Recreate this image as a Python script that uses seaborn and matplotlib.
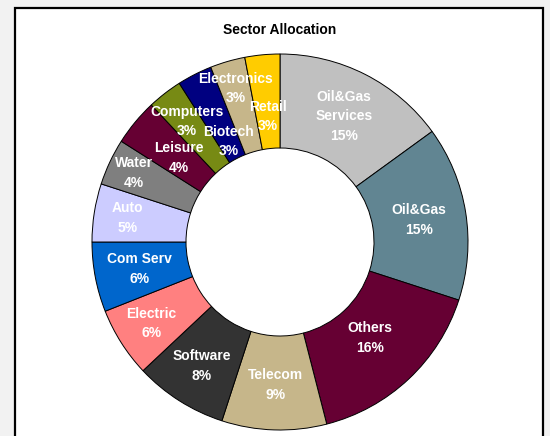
import numpy as np
import pandas as pd
import matplotlib
matplotlib.use('Agg')
import matplotlib.pyplot as plt
import seaborn as sns
from matplotlib.patches import Rectangle

# 数据：扇区配置（顺时针，从12点开始）
sectors = ['Oil&Gas\nServices', 'Oil&Gas', 'Others', 'Telecom', 'Software', 'Electric',
           'Com Serv', 'Auto', 'Water', 'Leisure', 'Computers', 'Biotech', 'Electronics', 'Retail']
shares = [15, 15, 16, 9, 8, 6, 6, 5, 4, 4, 3, 3, 3, 3]
colors = ['#C0C0C0', '#618592', '#660033', '#C6B68A', '#333333', '#FF8080',
          '#0066CC', '#CCCCFF', '#7F7F7F', '#660033', '#778A14', '#000080', '#C6B68A', '#FFCC00']

# 标签离圆心的距离（相对外半径）
label_r = [0.75, 0.75, 0.70, 0.76, 0.78, 0.81, 0.76, 0.82, 0.86, 0.70, 0.81, 0.60, 0.85, 0.67]

df = pd.DataFrame({'sector': sectors, 'share': shares, 'color': colors, 'r': label_r})

sns.set_theme(style='white')
plt.rcParams['font.family'] = ['Liberation Sans', 'DejaVu Sans']

W, H = 550, 436
fig = plt.figure(figsize=(W / 100, H / 100), dpi=100)
fig.patch.set_facecolor('#F2F2F2')

# 白色图框
fig.patches.append(Rectangle((15 / W, -0.05), (543 - 15) / W, (H - 8) / H + 0.05,
                             transform=fig.transFigure, facecolor='white',
                             edgecolor='black', linewidth=1.6, zorder=-10))

cx, cy, R = 280, 242, 188
ax = fig.add_axes([(cx - R) / W, (H - cy - R) / H, 2 * R / W, 2 * R / H])
ax.set_facecolor('none')
ax.set_zorder(5)

wedges, _ = ax.pie(df['share'], colors=df['color'], startangle=90, counterclock=False,
                   radius=1.0, wedgeprops=dict(width=0.5, edgecolor='black', linewidth=0.7))
ax.set_xlim(-1, 1)
ax.set_ylim(-1, 1)
ax.axis('off')

# 标签
total = df['share'].sum()
start = 0.0
for _, row in df.iterrows():
    mid = start + row['share'] / total * 360 / 2
    start += row['share'] / total * 360
    a = np.deg2rad(mid)
    x = row['r'] * np.sin(a)
    y = row['r'] * np.cos(a)
    ax.text(x, y, f"{row['sector']}\n{row['share']}%", ha='center', va='center',
            color='white', fontsize=10, fontweight='bold', linespacing=1.5)

fig.text(cx / W, 1 - 30 / H, 'Sector Allocation', ha='center', va='center',
         fontsize=10, fontweight='bold', color='black')

fig.savefig('out.png', dpi=100, facecolor=fig.get_facecolor())
